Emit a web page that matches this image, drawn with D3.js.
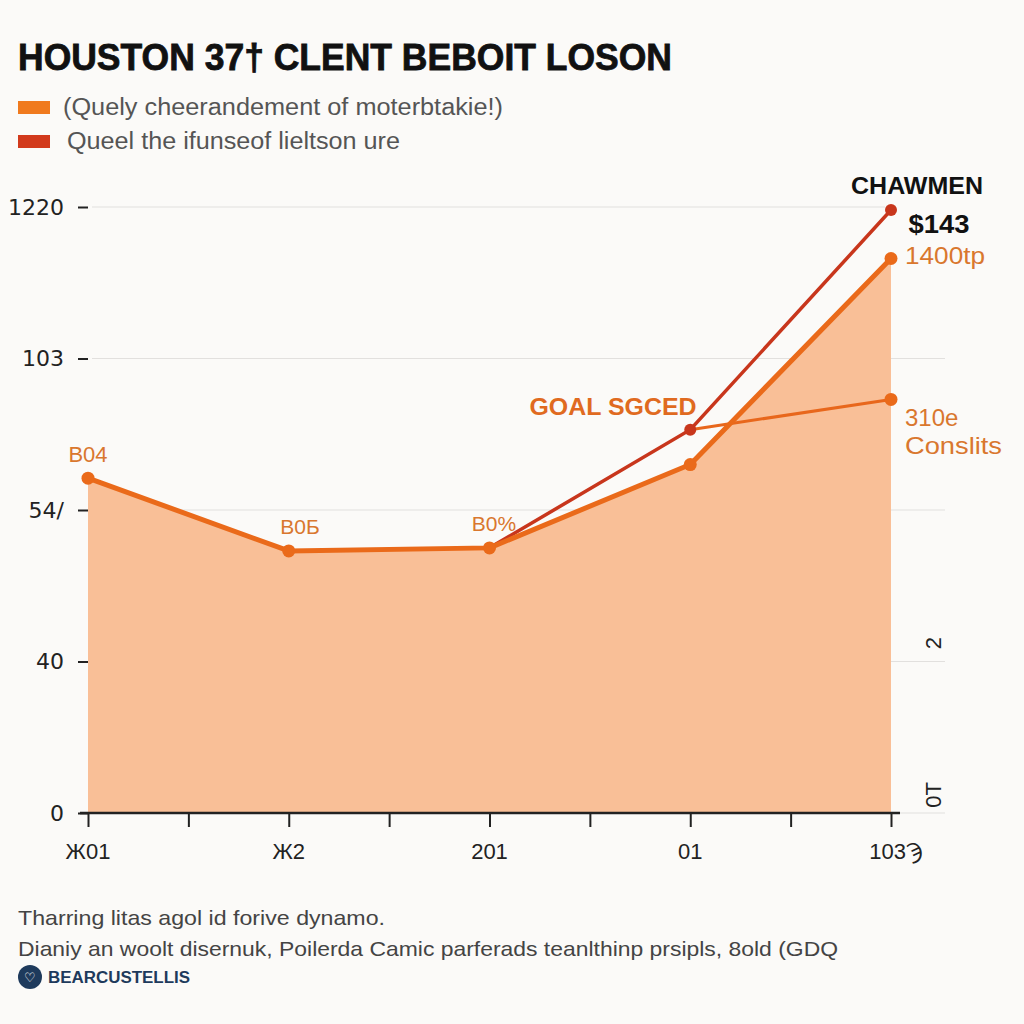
<!DOCTYPE html>
<html><head><meta charset="utf-8">
<script src="https://cdn.jsdelivr.net/npm/d3@7"></script>
<style>html,body{margin:0;padding:0;background:#fbfaf8;}svg{display:block;}</style>
</head><body>
<script>
// ---- data ----
const xLabels = ["Ж01", "Ж2", "201", "01", "103Ϡ"];
const yTickLabels = ["0", "40", "54/", "103", "1220"];
const mainValues = [2.21, 1.73, 1.75, 2.30, 3.66];      // orange area series
const mainLabels = ["B04", "B0Б", "B0%", null, "1400tp"];
const redX = [2, 3, 4];
const redValues = [1.75, 2.53, 3.98];
const thinX = [3, 4];
const thinValues = [2.53, 2.73];
const rightAxisLabels = ["0T", "2"];

const W = 1024, H = 1024;
const svg = d3.select("body").append("svg").attr("width", W).attr("height", H)
  .style("font-family", "'Liberation Sans', Arial, sans-serif");
svg.append("rect").attr("width", W).attr("height", H).attr("fill", "#fbfaf8");

const x = d3.scaleLinear().domain([0, 4]).range([88, 891]);
const y = d3.scaleLinear().domain([0, 4]).range([813, 207]);

// title
svg.append("text").attr("x", 18).attr("y", 70).text("HOUSTON 37† CLENT BEBOIT LOSON")
  .style("font-family", "'Liberation Sans Narrow', 'Liberation Sans', Arial, sans-serif")
  .attr("font-size", 37).attr("font-weight", 700).attr("fill", "#111")
  .attr("stroke", "#111").attr("stroke-width", 0.8)
  .attr("textLength", 654).attr("lengthAdjust", "spacingAndGlyphs");

// legend
const legend = [
  {c: "#f07a1e", t: "(Quely cheerandement of moterbtakie!)", y: 107, tx: 63, w: 440},
  {c: "#d23a1c", t: "Queel the ifunseof lieltson ure", y: 141, tx: 67, w: 333}
];
legend.forEach(l => {
  svg.append("rect").attr("x", 18).attr("y", l.y - 6).attr("width", 32).attr("height", 13).attr("fill", l.c);
  svg.append("text").attr("x", l.tx).attr("y", l.y + 8).text(l.t)
    .attr("font-size", 23).attr("fill", "#555")
    .attr("textLength", l.w).attr("lengthAdjust", "spacingAndGlyphs");
});

// gridlines
const gy = svg.append("g");
[0,1,2,3,4].forEach(i => {
  gy.append("line").attr("x1", 92).attr("x2", i === 4 ? 885 : 945)
    .attr("y1", y(i)).attr("y2", y(i)).attr("stroke", "#e2e0de").attr("stroke-width", 1.2);
});

// y axis (labels only + small tick dashes)
const yAxis = d3.axisLeft(y).tickValues([0,1,2,3,4]).tickFormat(i => yTickLabels[i]).tickSize(10).tickPadding(14);
const ya = svg.append("g").attr("transform", "translate(88,0)").call(yAxis);
ya.select(".domain").remove();
ya.selectAll(".tick line").attr("stroke", "#222").attr("stroke-width", 2);
ya.selectAll(".tick text").attr("font-size", 22).attr("fill", "#222")
  .style("font-family", "'DejaVu Sans', sans-serif");

// area
const idx = d3.range(mainValues.length);
svg.append("path").datum(idx)
  .attr("d", d3.area().x(i => x(i)).y0(y(0)).y1(i => y(mainValues[i])))
  .attr("fill", "#f9bf97");

// x axis
const xa = svg.append("g").attr("transform", `translate(0,${y(0)})`)
  .call(d3.axisBottom(x).tickValues(d3.range(0, 4.01, 0.5)).tickFormat(() => "").tickSize(14).tickSizeOuter(0));
xa.select(".domain").attr("d", `M80,0H900`).attr("stroke", "#222").attr("stroke-width", 2.5);
xa.selectAll(".tick line").attr("stroke", "#222").attr("stroke-width", 2);
xLabels.forEach((t, i) => {
  svg.append("text").attr("x", x(i) + (i === 4 ? 5 : 0)).attr("y", y(0) + 46).attr("text-anchor", "middle")
    .text(t).attr("font-size", 22).attr("fill", "#222");
});

// right rotated labels
[[795, rightAxisLabels[0]], [643, rightAxisLabels[1]]].forEach(([yy, t]) => {
  svg.append("text").attr("transform", `translate(941,${yy}) rotate(-90)`).attr("text-anchor", "middle")
    .text(t).attr("font-size", 22).attr("fill", "#222");
});

// red line
svg.append("path").datum(d3.range(redX.length))
  .attr("d", d3.line().x(i => x(redX[i])).y(i => y(redValues[i])))
  .attr("fill", "none").attr("stroke", "#c8361c").attr("stroke-width", 3.5);

// thin orange line
svg.append("path").datum(d3.range(thinX.length))
  .attr("d", d3.line().x(i => x(thinX[i])).y(i => y(thinValues[i])))
  .attr("fill", "none").attr("stroke", "#e8671c").attr("stroke-width", 3);

// main orange line
svg.append("path").datum(idx)
  .attr("d", d3.line().x(i => x(i)).y(i => y(mainValues[i])))
  .attr("fill", "none").attr("stroke", "#ea6a1a").attr("stroke-width", 5).attr("stroke-linejoin", "round");

// markers
svg.selectAll(".m").data(idx).enter().append("circle")
  .attr("cx", i => x(i)).attr("cy", i => y(mainValues[i])).attr("r", 6.5).attr("fill", "#ea6a1a");
svg.append("circle").attr("cx", x(thinX[1])).attr("cy", y(thinValues[1])).attr("r", 6.5).attr("fill", "#ea6a1a");
svg.selectAll(".r").data([1, 2]).enter().append("circle")
  .attr("cx", i => x(redX[i])).attr("cy", i => y(redValues[i])).attr("r", 6).attr("fill", "#c8361c");

// point annotations
const annoCol = "#d9772e";
svg.append("text").attr("x", x(0)).attr("y", 462).attr("text-anchor", "middle").text(mainLabels[0])
  .attr("font-size", 22).attr("fill", annoCol);
svg.append("text").attr("x", 300).attr("y", 534).attr("text-anchor", "middle").text(mainLabels[1])
  .attr("font-size", 21).attr("fill", annoCol);
svg.append("text").attr("x", 494).attr("y", 531).attr("text-anchor", "middle").text(mainLabels[2])
  .attr("font-size", 21).attr("fill", annoCol);
svg.append("text").attr("x", 905).attr("y", 264).text(mainLabels[4])
  .attr("font-size", 23).attr("fill", annoCol).attr("textLength", 80).attr("lengthAdjust", "spacingAndGlyphs");
svg.append("text").attr("x", 905).attr("y", 426).text("310e").attr("font-size", 24).attr("fill", annoCol);
svg.append("text").attr("x", 905).attr("y", 454).text("Conslits").attr("font-size", 24).attr("fill", annoCol)
  .attr("textLength", 97).attr("lengthAdjust", "spacingAndGlyphs");
svg.append("text").attr("x", 613).attr("y", 415).attr("text-anchor", "middle").text("GOAL SGCED")
  .attr("font-size", 24).attr("font-weight", 700).attr("fill", "#e06a20")
  .attr("textLength", 167).attr("lengthAdjust", "spacingAndGlyphs");
svg.append("text").attr("x", 917).attr("y", 194).attr("text-anchor", "middle").text("CHAWMEN")
  .attr("font-size", 24).attr("font-weight", 700).attr("fill", "#111")
  .attr("textLength", 132).attr("lengthAdjust", "spacingAndGlyphs");
svg.append("text").attr("x", 939).attr("y", 233).attr("text-anchor", "middle").text("$143")
  .attr("font-size", 25).attr("font-weight", 700).attr("fill", "#111")
  .attr("textLength", 61).attr("lengthAdjust", "spacingAndGlyphs");

// footer
svg.append("text").attr("x", 18).attr("y", 925).text("Tharring litas agol id forive dynamo.")
  .attr("font-size", 21).attr("fill", "#444").attr("textLength", 367).attr("lengthAdjust", "spacingAndGlyphs");
svg.append("text").attr("x", 18).attr("y", 956).text("Dianiy an woolt disernuk, Poilerda Camic parferads teanlthinp prsipls, 8old (GDQ")
  .attr("font-size", 21).attr("fill", "#444").attr("textLength", 820).attr("lengthAdjust", "spacingAndGlyphs");
svg.append("circle").attr("cx", 30).attr("cy", 977).attr("r", 12).attr("fill", "#1e3a5c");
svg.append("text").attr("x", 30).attr("y", 982).attr("text-anchor", "middle").text("♡")
  .attr("font-size", 13).attr("fill", "#fff");
svg.append("text").attr("x", 48).attr("y", 983).text("BEARCUSTELLIS")
  .attr("font-size", 16).attr("font-weight", 700).attr("fill", "#1e3a5c")
  .attr("textLength", 142).attr("lengthAdjust", "spacingAndGlyphs");
</script>
</body></html>
